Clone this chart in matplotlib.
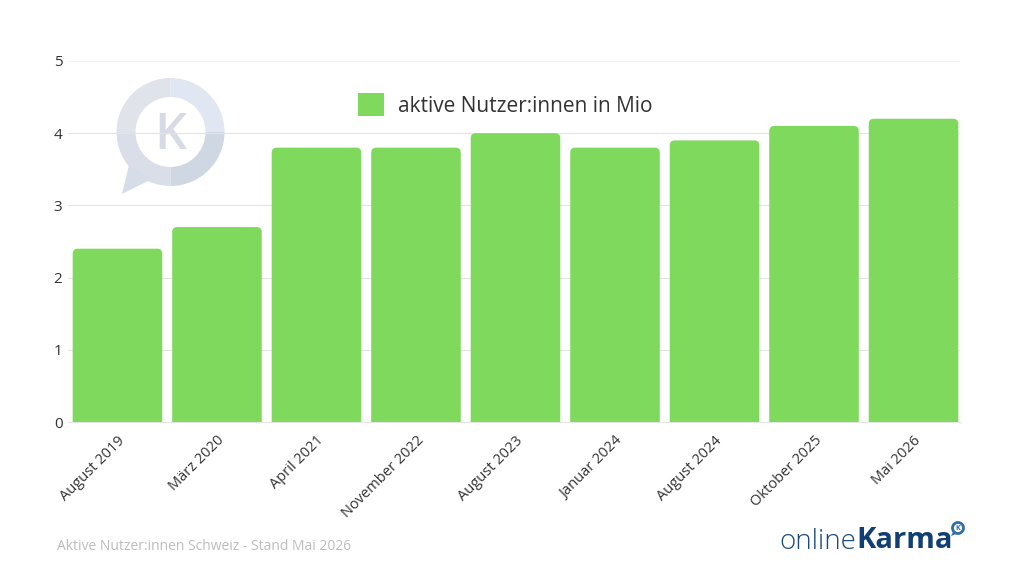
import matplotlib
matplotlib.use("Agg")
import matplotlib.pyplot as plt
from matplotlib.patches import PathPatch, Polygon, Wedge, Circle
from matplotlib.path import Path

W, H = 1024, 576

categories = ["August 2019", "März 2020", "April 2021", "November 2022", "August 2023",
              "Januar 2024", "August 2024", "Oktober 2025", "Mai 2026"]
users = [2.4, 2.7, 3.8, 3.8, 4.0, 3.8, 3.9, 4.1, 4.2]
y_ticks = [0, 1, 2, 3, 4, 5]

GREEN = "#7ED95C"
GRID = "#E4E4E4"
TEXT = "#333333"
NAVY = "#1B4A7C"

plt.rcParams["font.family"] = ["Open Sans", "DejaVu Sans"]


def rounded_top(x, w, h, rx, ry):
    # bar outline with two rounded top corners, radii given in data units
    verts = [(x, 0), (x, h - ry), (x, h), (x + rx, h), (x + w - rx, h),
             (x + w, h), (x + w, h - ry), (x + w, 0), (x, 0)]
    codes = [Path.MOVETO, Path.LINETO, Path.CURVE3, Path.CURVE3, Path.LINETO,
             Path.CURVE3, Path.CURVE3, Path.LINETO, Path.CLOSEPOLY]
    return Path(verts, codes)


def draw_bubble(ax, cx, cy, r_out, r_in, colors, tail, tail_color):
    # y is pixels from the top, so the angles run clockwise on screen
    for (a, b), col in zip([(270, 360), (180, 270), (0, 90), (90, 180)], colors):
        ax.add_patch(Wedge((cx, cy), r_out, a, b, width=r_out - r_in, fc=col, ec="none"))
    ax.add_patch(Polygon(tail, closed=True, fc=tail_color, ec="none"))


fig = plt.figure(figsize=(W / 100, H / 100), dpi=100, facecolor="white")

# overlay in pixel coordinates for the two logos
bg = fig.add_axes([0, 0, 1, 1], zorder=0)
bg.set_xlim(0, W)
bg.set_ylim(H, 0)
bg.axis("off")

draw_bubble(bg, 170.5, 132, 54, 35,
            ["#E0E6F2", "#E1E3EB", "#CFD7E3", "#D9DEE8"],
            [(122, 194), (129, 165), (150, 180)], "#D6DDE8")
bg.text(170.5, 136, "K", fontsize=36, fontweight="semibold", color="#D6DBE6", ha="center", va="center")

ax = fig.add_axes([68 / W, 1 - 422 / H, (960 - 68) / W, (422 - 61) / H], zorder=1)
ax.patch.set_alpha(0)

bars = ax.bar(range(len(users)), users, width=0.9, color=GREEN, zorder=3)
ax.set_xlim(-0.497, 8.467)
ax.set_ylim(0, 5)

# round the top corners of each bar
rx, ry = 0.05, 5 * 5 / 361
for bar in bars:
    ax.add_patch(PathPatch(rounded_top(bar.get_x(), bar.get_width(), bar.get_height(), rx, ry),
                           fc=GREEN, ec="none", zorder=3))
    bar.set_visible(False)

ax.set_yticks(y_ticks)
ax.set_xticks(range(len(categories)))
ax.set_xticklabels(categories, rotation=45, ha="right", rotation_mode="anchor")
ax.tick_params(axis="both", length=0, labelsize=10.5, labelcolor=TEXT)
ax.tick_params(axis="x", pad=8)
ax.tick_params(axis="y", pad=4, labelsize=11)
ax.grid(axis="y", color=GRID, lw=0.8, zorder=1)
ax.get_ygridlines()[-1].set_color("#F2F2F2")
for name in ["top", "right", "left"]:
    ax.spines[name].set_visible(False)
ax.spines["bottom"].set_color(GRID)
ax.spines["bottom"].set_zorder(2)

leg_handle = plt.Rectangle((0, 0), 1, 1, fc=GREEN, ec="none")
ax.legend([leg_handle], ["aktive Nutzer:innen in Mio"], loc="center left",
          bbox_to_anchor=((358 - 68) / 892, (422 - 105) / 361), frameon=False, fontsize=15,
          labelcolor=TEXT, handlelength=1.25, handleheight=1.25, handletextpad=0.67,
          borderpad=0, borderaxespad=0)

bg.text(57, 546, "Aktive Nutzer:innen Schweiz - Stand Mai 2026", fontsize=10, color="#BDBDBD",
        ha="left", va="center")

# onlineKarma logo, bottom right
bg.text(779, 542, "online", fontsize=20, color=NAVY, ha="left", va="center", fontweight="light")
bg.text(856, 541, "Karma", fontsize=21, color="#123F73", ha="left", va="center", fontweight="bold")
bg.add_patch(Circle((958, 528), 5.5, fc="white", ec="#2F6FA8", lw=2))
bg.add_patch(Polygon([(951, 536), (953, 532), (956, 534)], closed=True, fc="#2F6FA8", ec="none"))
bg.text(958, 528, "K", fontsize=5, color="#2F6FA8", ha="center", va="center", fontweight="bold")

fig.savefig("out.png", dpi=100)
